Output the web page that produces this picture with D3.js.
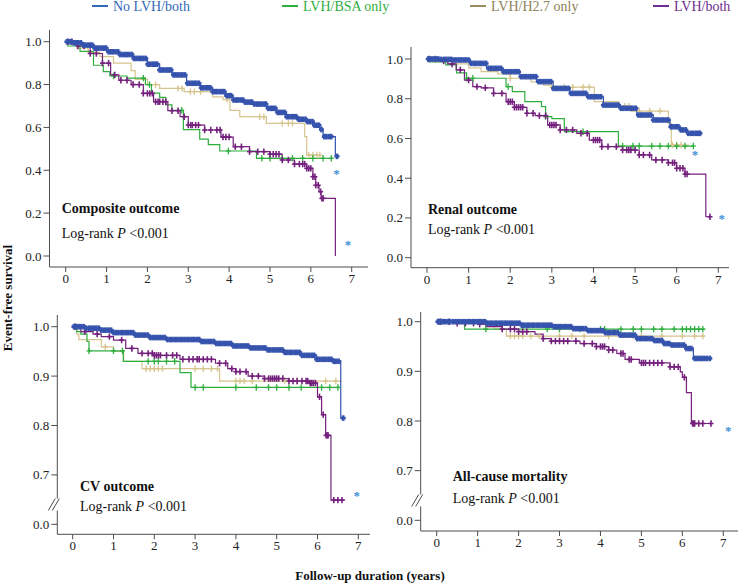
<!DOCTYPE html>
<html><head><meta charset="utf-8">
<script src="https://cdn.jsdelivr.net/npm/d3@7"></script>
<style>body{margin:0;background:#fff}svg{display:block}text{font-family:"Liberation Serif","Times New Roman",serif}</style>
</head><body><svg id="c" width="740" height="587"></svg>
<script>
// ---------- DATA ----------
const seriesNames = ["No LVH/both","LVH/BSA only","LVH/H2.7 only","LVH/both"];
const xTicks = [0,1,2,3,4,5,6,7];
const yTicksFull = [0,0.2,0.4,0.6,0.8,1.0];
const yTicksBroken = [0.6,0.7,0.8,0.9,1.0];
const yTickLabelsBroken = ["0.0","0.7","0.8","0.9","1.0"];
const panelTitles = ["Composite outcome","Renal outcome","CV outcome","All-cause mortality"];

// Composite outcome
const compBlue = [[0,1],[0.2,0.995],[0.43,0.984],[0.7,0.97],[1.0,0.953],[1.3,0.94],[1.65,0.922],[2.0,0.895],[2.3,0.868],[2.6,0.845],[2.96,0.806],[3.3,0.785],[3.6,0.767],[3.9,0.748],[4.1,0.728],[4.35,0.718],[4.59,0.709],[4.91,0.689],[5.15,0.67],[5.4,0.65],[5.65,0.638],[5.9,0.627],[6.05,0.61],[6.22,0.59],[6.3,0.557],[6.6,0.465],[6.67,0.465]];
const compGreen = [[0,1],[0.05,0.98],[0.35,0.955],[0.68,0.89],[0.92,0.86],[1.08,0.84],[1.5,0.83],[1.95,0.8],[2.1,0.76],[2.3,0.74],[2.45,0.705],[2.6,0.68],[2.88,0.59],[3.28,0.545],[3.49,0.52],[3.77,0.49],[4.67,0.456],[6.55,0.456]];
const compTan = [[0,1],[0.27,0.97],[0.55,0.95],[0.84,0.93],[1.17,0.9],[1.6,0.865],[1.7,0.824],[2.0,0.8],[2.3,0.782],[2.9,0.767],[3.6,0.743],[3.85,0.73],[4.02,0.68],[4.26,0.65],[4.91,0.619],[5.85,0.557],[5.9,0.471],[6.25,0.471]];
const compPurple = [[0,1],[0.3,0.98],[0.6,0.945],[0.9,0.9],[1.1,0.845],[1.3,0.82],[1.6,0.8],[1.9,0.759],[2.15,0.72],[2.5,0.678],[2.8,0.65],[3.0,0.611],[3.4,0.588],[3.8,0.555],[4.1,0.51],[4.5,0.487],[5.0,0.475],[5.3,0.448],[5.6,0.429],[5.9,0.409],[6.05,0.37],[6.12,0.33],[6.2,0.3],[6.25,0.269],[6.6,0.0],[6.6,0.0]];
const compBlueCens = [0.03,0.09,0.14,0.2,0.26,0.31,0.37,0.43,0.48,0.54,0.6,0.65,0.71,0.77,0.82,0.88,0.94,0.99,1.05,1.11,1.16,1.22,1.28,1.33,1.39,1.45,1.5,1.56,1.62,1.67,1.73,1.79,1.84,1.9,1.96,2.01,2.07,2.13,2.18,2.24,2.3,2.35,2.41,2.47,2.52,2.58,2.64,2.69,2.75,2.81,2.86,2.92,2.98,3.03,3.09,3.15,3.2,3.26,3.32,3.37,3.43,3.49,3.54,3.6,3.66,3.71,3.77,3.83,3.88,3.94,4.0,4.05,4.11,4.17,4.22,4.28,4.34,4.39,4.45,4.51,4.56,4.62,4.68,4.73,4.79,4.85,4.9,4.96,5.02,5.07,5.13,5.19,5.24,5.3,5.36,5.41,5.47,5.53,5.58,5.64,5.7,5.75,5.81,5.87,5.92,5.98,6.04,6.09,6.15,6.2,6.26,6.33,6.38,6.44,6.5,6.64];
const compGreenCens = [1.17,1.9,2.05,2.84,3.98,4.8,5.0,5.3,5.55,5.8,6.05,6.3,6.5];
const compTanCens = [2.2,2.75,2.85,3.05,3.15,3.3,3.95,4.75,4.85,5.3,5.45,5.55,5.95,6.05,6.15,6.22];
const compPurpleCens = [0.05,0.15,0.3,0.45,0.6,0.75,0.9,1.05,1.2,1.35,1.5,1.65,1.8,1.9,2.0,2.06,2.12,2.2,2.26,2.3,2.38,2.45,2.6,2.75,2.9,3.0,3.06,3.1,3.18,3.25,3.4,3.55,3.7,3.78,3.85,3.92,4.0,4.15,4.3,4.5,4.7,4.85,5.0,5.08,5.15,5.22,5.3,5.45,5.6,5.72,5.8,5.85,5.9,5.95,6.0,6.05,6.1,6.12,6.18,6.24,6.27,6.3];
const compStars = [[6.63,0.389],[6.91,0.054]];

// Renal outcome
const renalBlue = [[0,1],[0.3,0.998],[0.63,0.995],[1.03,0.978],[1.43,0.953],[1.83,0.936],[2.23,0.911],[2.63,0.886],[3.03,0.852],[3.43,0.827],[3.83,0.81],[4.24,0.768],[4.64,0.752],[5.04,0.718],[5.44,0.693],[5.84,0.659],[6.08,0.643],[6.24,0.626],[6.56,0.626]];
const renalGreen = [[0,1],[0.05,0.985],[0.45,0.97],[0.71,0.93],[0.95,0.903],[1.9,0.861],[2.05,0.836],[2.35,0.785],[2.75,0.76],[2.85,0.71],[3.0,0.70],[3.3,0.634],[4.6,0.562],[6.4,0.562]];
const renalTan = [[0,1],[0.3,0.99],[0.5,0.975],[1.0,0.955],[1.3,0.936],[1.7,0.925],[2.0,0.903],[2.5,0.885],[2.8,0.869],[3.0,0.858],[4.02,0.785],[4.6,0.763],[4.9,0.738],[5.8,0.676],[5.87,0.567],[6.3,0.567]];
const renalPurple = [[0,1],[0.3,0.99],[0.5,0.975],[0.7,0.945],[0.9,0.894],[1.1,0.861],[1.3,0.855],[1.6,0.827],[1.9,0.785],[2.1,0.757],[2.4,0.727],[2.6,0.715],[2.9,0.668],[3.2,0.643],[3.6,0.626],[3.9,0.592],[4.2,0.559],[4.7,0.542],[5.1,0.517],[5.4,0.492],[5.8,0.478],[6.0,0.45],[6.2,0.421],[6.7,0.206],[6.8,0.206]];
const renalBlueCens = [0.03,0.09,0.15,0.21,0.27,0.33,0.4,0.46,0.52,0.58,0.64,0.7,0.76,0.82,0.88,0.94,1.0,1.06,1.12,1.18,1.24,1.3,1.36,1.42,1.48,1.54,1.6,1.66,1.72,1.78,1.84,1.9,1.96,2.02,2.08,2.14,2.2,2.26,2.32,2.38,2.44,2.5,2.56,2.62,2.68,2.74,2.8,2.86,2.92,2.98,3.04,3.1,3.16,3.22,3.28,3.34,3.4,3.46,3.52,3.58,3.64,3.7,3.76,3.82,3.88,3.94,4.0,4.06,4.12,4.18,4.24,4.3,4.36,4.42,4.48,4.54,4.6,4.66,4.72,4.78,4.84,4.9,4.96,5.02,5.08,5.14,5.2,5.26,5.32,5.38,5.44,5.5,5.56,5.62,5.68,5.74,5.8,5.86,5.92,5.98,6.04,6.1,6.16,6.22,6.28,6.34,6.4,6.46,6.52,6.56];
const renalGreenCens = [0.95,1.1,1.95,2.85,3.75,4.7,4.95,5.1,5.4,5.6,5.8,6.0,6.2,6.4];
const renalTanCens = [2.0,3.0,3.3,3.5,3.75,3.9,4.75,4.85,5.1,5.35,5.6,5.9,6.0,6.1];
const renalPurpleCens = [0.05,0.2,0.4,0.6,0.8,1.0,1.2,1.4,1.6,1.8,1.95,2.0,2.05,2.1,2.15,2.2,2.25,2.3,2.4,2.55,2.7,2.85,2.95,3.0,3.05,3.1,3.2,3.35,3.5,3.7,3.85,4.0,4.05,4.1,4.15,4.2,4.35,4.55,4.7,4.8,4.85,4.9,5.0,5.1,5.2,5.35,5.5,5.65,5.8,5.9,5.95,6.0,6.08,6.15,6.2,6.25,6.8];
const renalStars = [[6.44,0.522],[7.08,0.201]];

// CV outcome
const cvBlue = [[0,1],[0.3,0.997],[0.67,0.993],[1.0,0.988],[1.49,0.983],[1.9,0.978],[2.3,0.974],[3.12,0.97],[3.5,0.966],[3.94,0.961],[4.35,0.957],[4.75,0.953],[5.15,0.948],[5.57,0.942],[5.98,0.934],[6.39,0.93],[6.57,0.815],[6.63,0.815]];
const cvGreen = [[0,1],[0.1,0.99],[0.2,0.985],[0.35,0.97],[0.4,0.951],[1.24,0.93],[2.63,0.907],[2.9,0.877],[6.55,0.877]];
const cvTan = [[0,1],[0.1,0.985],[0.15,0.974],[0.7,0.959],[1.0,0.95],[1.25,0.93],[1.7,0.915],[3.6,0.89],[6.6,0.89]];
const cvPurple = [[0,1],[0.2,0.99],[0.5,0.985],[0.7,0.98],[1.0,0.973],[1.3,0.956],[1.6,0.946],[2.0,0.942],[2.63,0.934],[3.5,0.926],[3.8,0.915],[4.0,0.909],[4.3,0.9],[4.7,0.895],[5.3,0.89],[5.8,0.886],[6.0,0.858],[6.1,0.822],[6.2,0.78],[6.33,0.649],[6.67,0.649]];
const cvBlueCens = [0.03,0.09,0.15,0.21,0.27,0.33,0.4,0.46,0.52,0.58,0.64,0.7,0.76,0.82,0.88,0.94,1.0,1.06,1.12,1.18,1.24,1.3,1.36,1.42,1.48,1.54,1.6,1.66,1.72,1.78,1.84,1.9,1.96,2.02,2.08,2.14,2.2,2.26,2.32,2.38,2.44,2.5,2.56,2.62,2.68,2.74,2.8,2.86,2.92,2.98,3.04,3.1,3.16,3.22,3.28,3.34,3.4,3.46,3.52,3.58,3.64,3.7,3.76,3.82,3.88,3.94,4.0,4.06,4.12,4.18,4.24,4.3,4.36,4.42,4.48,4.54,4.6,4.66,4.72,4.78,4.84,4.9,4.96,5.02,5.08,5.14,5.2,5.26,5.32,5.38,5.44,5.5,5.56,5.62,5.68,5.74,5.8,5.86,5.92,5.98,6.04,6.1,6.16,6.22,6.28,6.34,6.4,6.46,6.52,6.63];
const cvGreenCens = [0.08,0.4,1.0,1.22,1.85,2.0,2.1,2.3,2.5,3.0,3.2,4.0,4.5,4.8,5.0,5.3,5.6,6.1,6.3,6.5];
const cvTanCens = [0.8,1.8,1.9,2.0,2.1,2.2,3.0,3.2,3.4,3.55,4.0,4.1,4.2,4.4,5.2,5.5,6.2,6.45];
const cvPurpleCens = [0.05,0.3,0.6,0.9,1.2,1.45,1.7,1.85,1.95,2.0,2.05,2.1,2.15,2.3,2.45,2.55,2.7,2.85,2.95,3.05,3.1,3.2,3.3,3.4,3.6,3.75,3.9,4.0,4.1,4.25,4.4,4.55,4.7,4.8,4.85,4.9,4.95,5.0,5.05,5.15,5.3,5.4,5.5,5.62,5.72,5.76,5.82,5.86,5.9,5.95,6.05,6.14,6.21,6.24,6.26,6.4,6.5,6.6];
const cvStars = [[6.96,0.66]];

// All-cause mortality
const mortBlue = [[0,1],[1.0,1.0],[1.22,0.997],[2.03,0.993],[2.85,0.99],[3.3,0.986],[3.66,0.982],[4.07,0.978],[4.47,0.973],[4.88,0.966],[5.29,0.962],[5.53,0.956],[5.7,0.953],[6.1,0.946],[6.27,0.926],[6.67,0.926]];
const mortGreen = [[0,1],[0.68,0.985],[6.55,0.985]];
const mortTan = [[0,1],[1.0,0.995],[1.4,0.985],[1.7,0.971],[6.55,0.971]];
const mortPurple = [[0,1],[0.5,0.997],[1.0,0.995],[1.2,0.99],[1.6,0.985],[2.0,0.98],[2.4,0.975],[2.6,0.966],[2.8,0.961],[3.5,0.956],[3.9,0.95],[4.2,0.943],[4.4,0.936],[4.6,0.924],[4.95,0.917],[5.7,0.909],[5.95,0.899],[6.0,0.888],[6.1,0.857],[6.22,0.795],[6.7,0.795]];
const mortBlueCens = [0.03,0.09,0.15,0.21,0.27,0.33,0.4,0.46,0.52,0.58,0.64,0.7,0.76,0.82,0.88,0.94,1.0,1.06,1.12,1.18,1.24,1.3,1.36,1.42,1.48,1.54,1.6,1.66,1.72,1.78,1.84,1.9,1.96,2.02,2.08,2.14,2.2,2.26,2.32,2.38,2.44,2.5,2.56,2.62,2.68,2.74,2.8,2.86,2.92,2.98,3.04,3.1,3.16,3.22,3.28,3.34,3.4,3.46,3.52,3.58,3.64,3.7,3.76,3.82,3.88,3.94,4.0,4.06,4.12,4.18,4.24,4.3,4.36,4.42,4.48,4.54,4.6,4.66,4.72,4.78,4.84,4.9,4.96,5.02,5.08,5.14,5.2,5.26,5.32,5.38,5.44,5.5,5.56,5.62,5.68,5.74,5.8,5.86,5.92,5.98,6.04,6.1,6.16,6.22,6.3,6.36,6.42,6.48,6.54,6.6,6.67];
const mortGreenCens = [1.2,2.7,3.0,3.5,4.0,4.1,4.5,4.8,5.0,5.3,5.5,5.8,6.0,6.1,6.2,6.3,6.4,6.5];
const mortTanCens = [1.8,1.9,2.0,2.1,2.3,2.5,3.0,3.3,3.6,4.2,4.8,5.0,5.5,6.0,6.3,6.5];
const mortPurpleCens = [0.05,0.1,0.3,0.5,0.7,0.9,1.05,1.6,1.8,1.9,2.0,2.1,2.2,2.6,2.8,2.9,3.0,3.1,3.2,3.4,3.6,3.8,3.9,4.0,4.05,4.1,4.2,4.3,4.5,4.55,4.7,4.75,5.0,5.05,5.1,5.2,5.3,5.4,5.5,5.7,5.8,5.9,6.05,6.25,6.28,6.3,6.4,6.5,6.7];
const mortStars = [[7.12,0.781]];

// ---------- STYLE / LAYOUT ----------
const lineColors = ["#3553ad","#2fae3e","#d6c48e","#74207d"];
const legendTextColors = ["#3468b8","#2fae3e","#8e8257","#6d2c90"];
const legendLineColors = ["#3468b8","#2fae3e","#9a8c5c","#6d2c90"];
const axisColor = "#4d4d4d";

const panels = [
  {title:panelTitles[0], series:[compBlue,compGreen,compTan,compPurple], cens:[compBlueCens,compGreenCens,compTanCens,compPurpleCens], stars:compStars,
   yAxisX:49.5, xAxisY:267, xr:[65.7,351.7], xEnd:368, yTop:30, yDom:[0,1], yr:[256,41.7], broken:false, tx:61.7, ty:213, ly:238},
  {title:panelTitles[1], series:[renalBlue,renalGreen,renalTan,renalPurple], cens:[renalBlueCens,renalGreenCens,renalTanCens,renalPurpleCens], stars:renalStars,
   yAxisX:411, xAxisY:267.7, xr:[427,718.3], xEnd:729, yTop:47, yDom:[0,1], yr:[257.7,59], broken:false, tx:428, ty:214, ly:234},
  {title:panelTitles[2], series:[cvBlue,cvGreen,cvTan,cvPurple], cens:[cvBlueCens,cvGreenCens,cvTanCens,cvPurpleCens], stars:cvStars,
   yAxisX:57.3, xAxisY:534.3, xr:[72.7,358.3], xEnd:370, yTop:315, yDom:[0.6,1], yr:[524.3,326.7], broken:true, tx:80, ty:491, ly:511},
  {title:panelTitles[3], series:[mortBlue,mortGreen,mortTan,mortPurple], cens:[mortBlueCens,mortGreenCens,mortTanCens,mortPurpleCens], stars:mortStars,
   yAxisX:420.7, xAxisY:531, xr:[436.7,723.3], xEnd:738, yTop:312, yDom:[0.6,1], yr:[520.3,321.7], broken:true, tx:452.7, ty:481, ly:503}
];

const svg = d3.select("#c");

// legend
const legX = [92,282,470,653];
seriesNames.forEach((n,i)=>{
  svg.append("line").attr("x1",legX[i]).attr("x2",legX[i]+16).attr("y1",6).attr("y2",6)
    .attr("stroke",legendLineColors[i]).attr("stroke-width",2);
  svg.append("text").attr("x",legX[i]+21).attr("y",11).attr("font-size",14)
    .attr("fill",legendTextColors[i]).text(n);
});

function stepVal(arr,t){let v=arr[0][1];for(const p of arr){if(p[0]<=t)v=p[1];else break;}return v;}

panels.forEach(p=>{
  const g = svg.append("g");
  const x = d3.scaleLinear().domain([0,7]).range(p.xr);
  const y = d3.scaleLinear().domain(p.yDom).range(p.yr);

  // y axis line
  if(p.broken){
    const yb = y(0.64);
    g.append("line").attr("x1",p.yAxisX).attr("x2",p.yAxisX).attr("y1",p.yTop).attr("y2",yb-6).attr("stroke",axisColor);
    g.append("line").attr("x1",p.yAxisX).attr("x2",p.yAxisX).attr("y1",yb+6).attr("y2",p.xAxisY).attr("stroke",axisColor);
    [-3,1].forEach(o=>g.append("line").attr("x1",p.yAxisX-6+o).attr("y1",yb+6).attr("x2",p.yAxisX+1+o).attr("y2",yb-6).attr("stroke",axisColor));
  } else {
    g.append("line").attr("x1",p.yAxisX).attr("x2",p.yAxisX).attr("y1",p.yTop).attr("y2",p.xAxisY).attr("stroke",axisColor);
  }
  // x axis line
  g.append("line").attr("x1",p.yAxisX).attr("x2",p.xEnd).attr("y1",p.xAxisY).attr("y2",p.xAxisY).attr("stroke",axisColor);

  // y ticks
  const yt = p.broken? yTicksBroken : yTicksFull;
  yt.forEach((v,i)=>{
    g.append("line").attr("x1",p.yAxisX-6).attr("x2",p.yAxisX).attr("y1",y(v)).attr("y2",y(v)).attr("stroke",axisColor);
    g.append("text").attr("x",p.yAxisX-8).attr("y",y(v)+4.5).attr("text-anchor","end").attr("font-size",13).attr("fill","#222")
      .text(p.broken? yTickLabelsBroken[i] : d3.format(".1f")(v));
  });
  // x ticks
  xTicks.forEach(t=>{
    g.append("line").attr("x1",x(t)).attr("x2",x(t)).attr("y1",p.xAxisY).attr("y2",p.xAxisY+5).attr("stroke",axisColor);
    g.append("text").attr("x",x(t)).attr("y",p.xAxisY+16).attr("text-anchor","middle").attr("font-size",13).attr("fill","#222").text(t);
  });

  // curves
  const line = d3.line().x(d=>x(d[0])).y(d=>y(d[1])).curve(d3.curveStepAfter);
  const order = [2,1,3,0];
  order.forEach(i=>{
    g.append("path").attr("d",line(p.series[i])).attr("fill","none").attr("stroke",lineColors[i]).attr("stroke-width",1.2);
  });
  order.forEach(i=>{
    const cg = g.append("g").attr("stroke",lineColors[i]).attr("stroke-width",i===0?2.6:(i===3?1.6:1.3));
    const hv = i===0?2.8:3.2;
    p.cens[i].forEach(t=>{
      const cx=x(t), cy=y(stepVal(p.series[i],t));
      cg.append("line").attr("x1",cx).attr("x2",cx).attr("y1",cy-hv).attr("y2",cy+hv);
      cg.append("line").attr("x1",cx-2.5).attr("x2",cx+2.5).attr("y1",cy).attr("y2",cy);
    });
  });
  // stars
  p.stars.forEach(s=>{
    g.append("text").attr("x",x(s[0])).attr("y",y(s[1])+5).attr("text-anchor","middle").attr("font-size",13)
      .attr("font-weight","bold").attr("fill","#3d8fd6").text("*");
  });

  // titles
  g.append("text").attr("x",p.tx).attr("y",p.ty).attr("font-size",14).attr("font-weight","bold").attr("fill","#111").text(p.title);
  const lr = g.append("text").attr("x",p.tx).attr("y",p.ly).attr("font-size",14).attr("fill","#111");
  lr.append("tspan").text("Log-rank  ");
  lr.append("tspan").attr("font-style","italic").text("P");
  lr.append("tspan").text(" <0.001");
});

// axis titles
svg.append("text").attr("transform","translate(12,298) rotate(-90)").attr("text-anchor","middle")
  .attr("font-size",13).attr("font-weight","bold").attr("fill","#111").text("Event-free survival");
svg.append("text").attr("x",370).attr("y",580).attr("text-anchor","middle")
  .attr("font-size",13).attr("font-weight","bold").attr("fill","#111").text("Follow-up duration (years)");
</script></body></html>
